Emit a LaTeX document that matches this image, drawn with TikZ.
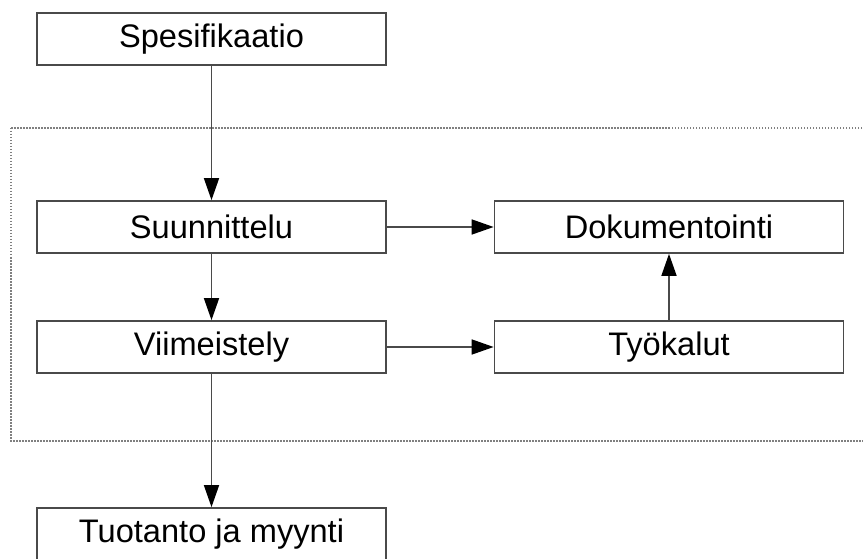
\documentclass[tikz,border=0pt]{standalone}
\usepackage{fontspec}
\setmainfont{Liberation Sans}
\usepackage{xcolor}
\usetikzlibrary{arrows.meta}
\definecolor{rajaus}{HTML}{4a4a4a}

\tikzset{
    laatikko/.style={draw=rajaus, line width=0.85pt, minimum width=174.5pt, minimum height=26pt,
        inner sep=0pt, font=\fontsize{16.3}{19.5}\selectfont},
    nuoli/.style={draw=rajaus, line width=0.8pt, -{Triangle[length=11pt,width=7.5pt,color=black,fill=black]}}
}

\begin{document}
\begin{tikzpicture}[x=0.5pt, y=0.5pt]
    \useasboundingbox (0,0) rectangle (863,558);
    \draw[gray, line width=0.8pt, dash pattern=on 0.75pt off 0.75pt] (11,430) rectangle (875,117);  % kehys

    \node[laatikko] (spek) at (211.5,519) {Spesifikaatio};
    \node[laatikko] (suun) at (211.5,331) {Suunnittelu};
    \node[laatikko] (viim) at (211.5,211) {Viimeistely};
    \node[laatikko] (tuot) at (211.5,24) {Tuotanto ja myynti};
    \node[laatikko] (doku) at (669,331) {Dokumentointi};
    \node[laatikko] (tyok) at (669,211) {Työkalut};

    \draw[nuoli] (spek) -- (suun);
    \draw[nuoli] (suun) -- (viim);
    \draw[nuoli] (viim) -- (tuot);
    \draw[nuoli] (suun) -- (doku);
    \draw[nuoli] (viim) -- (tyok);
    \draw[nuoli] (tyok) -- (doku);
\end{tikzpicture}
\end{document}
